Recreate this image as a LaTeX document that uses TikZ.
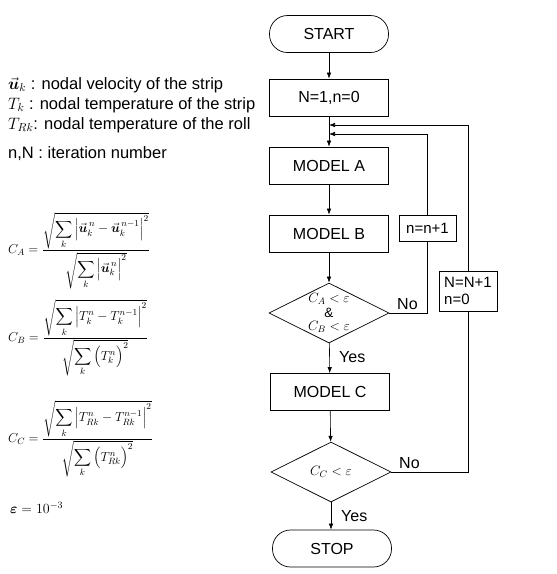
\RequirePackage{fix-cm}
\documentclass[tikz,border=0pt]{standalone}
\usepackage{amsmath}
\usepackage{fontspec}
\setmainfont{Liberation Sans}
\usetikzlibrary{shapes.geometric,arrows.meta}
\tikzset{
  box/.style={draw, line width=0.7pt, minimum width=119pt, minimum height=37pt, inner sep=0pt, font=\fontsize{16}{19}\selectfont},
  term/.style={box, rounded corners=18pt},
  dia/.style={draw, diamond, line width=0.7pt, minimum width=120pt, minimum height=60pt, inner sep=0pt},
  smallbox/.style={draw, line width=0.7pt, inner sep=2pt, font=\fontsize{15}{17}\selectfont},
  arr/.style={-{Latex[length=6pt,width=4.5pt]}, line width=0.6pt},
  conn/.style={line width=0.6pt},
  lbl/.style={inner sep=0pt, font=\fontsize{16}{19}\selectfont},
  legend/.style={anchor=west, inner sep=0pt, font=\fontsize{16.5}{20}\selectfont},
  formula/.style={anchor=west, inner sep=0pt, font=\fontsize{13}{16}\selectfont},
  diatext/.style={inner sep=0pt, font=\fontsize{13.5}{15}\selectfont}
}
\begin{document}
\begin{tikzpicture}[x=1pt,y=-1pt]
\useasboundingbox (0,0) rectangle (557,574);

% flowchart nodes
\node[term] (start) at (329,34) {START};
\node[box] (init) at (329,97.5) {N=1,n=0};
\node[box] (ma) at (329,165.5) {MODEL A};
\node[box] (mb) at (329,233.5) {MODEL B};
\node[dia] (d1) at (329,313) {};
\node[diatext] (d1a) at (329,299) {$C_A<\varepsilon$};
\node[diatext] (d1b) at (329,313) {\&};
\node[diatext] (d1c) at (329,327) {$C_B<\varepsilon$};
\node[box] (mc) at (330,392) {MODEL C};
\node[dia] (d2) at (331,472) {};
\node[diatext] (d2a) at (331,472) {$C_C<\varepsilon$};
\node[term] (stop) at (332,548.5) {STOP};

\node[smallbox, minimum width=57pt, minimum height=26pt] (nn) at (427.5,228) {n=n+1};
\node[smallbox, minimum width=58pt, minimum height=40pt, align=left] (NN) at (468,291) {N=N+1\\n=0};

\coordinate (j1) at (329,125);
\coordinate (j2) at (329,134);

% connectors
\draw[arr] (start) -- (init);
\draw[arr] (init) -- (ma);
\draw[arr] (ma) -- (mb);
\draw[arr] (mb) -- (d1);
\draw[arr] (d1) -- (mc);
\draw[arr] (mc) -- (d2);
\draw[arr] (d2.south) -- (stop.north -| d2.south);
\draw[conn] (d1.east) -| (nn.south);
\draw[arr] (nn.north) |- (j2);
\draw[conn] (d2.east) -| (NN.south);
\draw[arr] (NN.north) |- (j1);

% branch labels
\node[lbl, anchor=south west] (no1) at (397,310) {No};
\node[lbl, anchor=south west] (no2) at (399,469) {No};
\node[lbl, anchor=west] (yes1) at (339,357) {Yes};
\node[lbl, anchor=west] (yes2) at (341,516) {Yes};

% legend
\node[legend] (l1) at (8,85) {$\vec{\boldsymbol{u}}_k$ : nodal velocity of the strip};
\node[legend] (l2) at (8,105) {$T_k$ : nodal temperature of the strip};
\node[legend] (l3) at (8,125) {$T_{Rk}$: nodal temperature of the roll};
\node[legend] (l4) at (8,154) {n,N : iteration number};

% formulas
\node[formula] (fa) at (8,250.5) {$\displaystyle C_A=\frac{\displaystyle\sqrt{\sum_k\Big|\vec{\boldsymbol{u}}_k^{\,n}-\vec{\boldsymbol{u}}_k^{\,n-1}\Big|^2}}{\displaystyle\sqrt{\sum_k\Big|\vec{\boldsymbol{u}}_k^{\,n}\Big|^2}}$};
\node[formula] (fb) at (8,338) {$\displaystyle C_B=\frac{\displaystyle\sqrt{\sum_k\Big|T_k^n-T_k^{n-1}\Big|^2}}{\displaystyle\sqrt{\sum_k\Big(T_k^n\Big)^2}}$};
\node[formula] (fc) at (8,439) {$\displaystyle C_C=\frac{\displaystyle\sqrt{\sum_k\Big|T_{Rk}^n-T_{Rk}^{n-1}\Big|^2}}{\displaystyle\sqrt{\sum_k\Big(T_{Rk}^n\Big)^2}}$};
\node[formula, font=\fontsize{14}{17}\selectfont] (fe) at (10,508) {$\boldsymbol{\varepsilon}=10^{-3}$};
\end{tikzpicture}
\end{document}
